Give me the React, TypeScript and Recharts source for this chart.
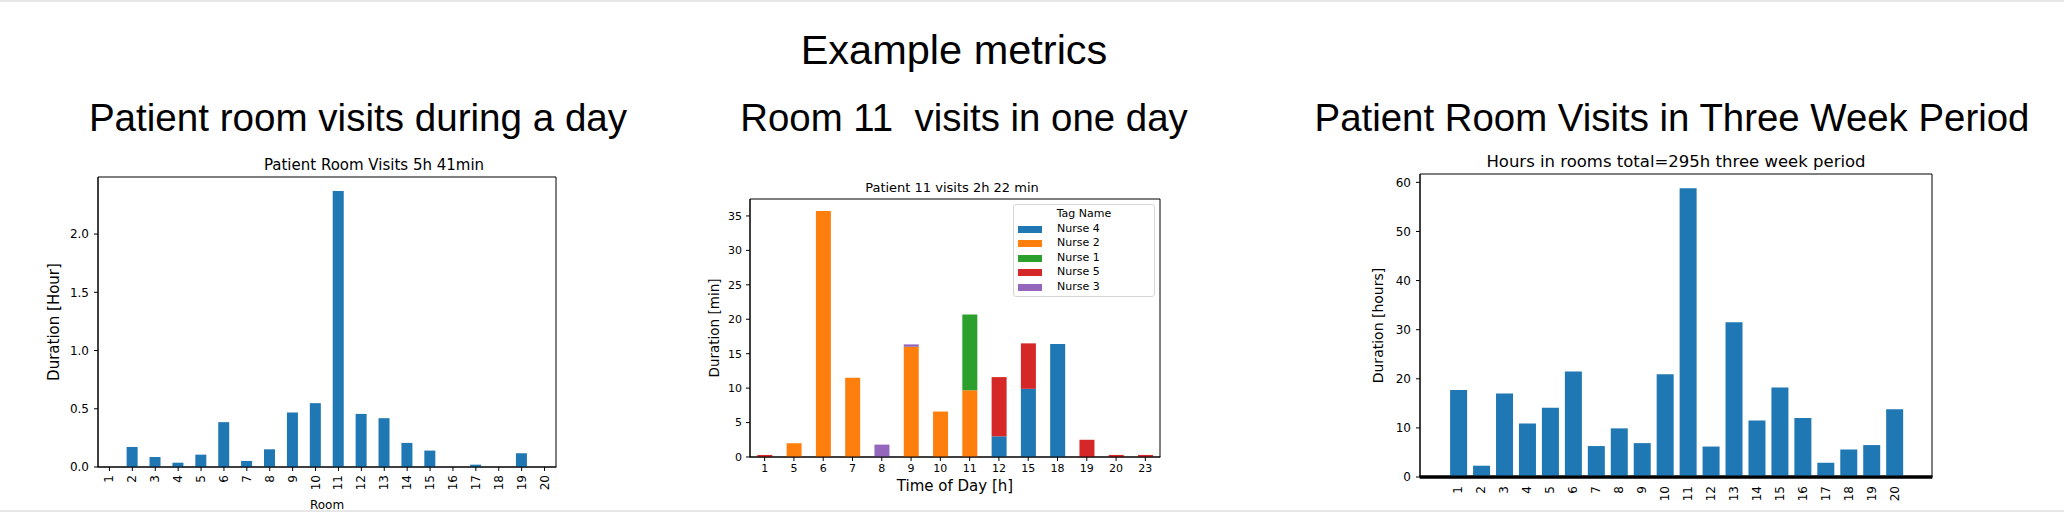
import React from 'react';
import * as R from 'recharts';
import { BarChart, Bar, XAxis, YAxis, Legend, Label } from 'recharts';

// ---------- data ----------
const rooms = ['1', '2', '3', '4', '5', '6', '7', '8', '9', '10', '11', '12', '13', '14', '15', '16', '17', '18', '19', '20'];
const dayHours = [0, 0.172, 0.086, 0.037, 0.106, 0.385, 0.052, 0.152, 0.468, 0.548, 2.37, 0.456, 0.419, 0.207, 0.141, 0, 0.02, 0, 0.118, 0];
const dayTicks = [0, 0.5, 1, 1.5, 2];

const hoursOfDay = ['1', '5', '6', '7', '8', '9', '10', '11', '12', '15', '18', '19', '20', '23'];
const nurse4 = [0, 0, 0, 0, 0, 0, 0, 0, 3.0, 9.9, 16.4, 0, 0, 0];
const nurse2 = [0, 2.0, 35.7, 11.5, 0, 16.0, 6.6, 9.7, 0, 0, 0, 0, 0, 0];
const nurse1 = [0, 0, 0, 0, 0, 0, 0, 11.0, 0, 0, 0, 0, 0, 0];
const nurse5 = [0.3, 0, 0, 0, 0, 0, 0, 0, 8.6, 6.6, 0, 2.5, 0.3, 0.3];
const nurse3 = [0, 0, 0, 0, 1.8, 0.35, 0, 0, 0, 0, 0, 0, 0, 0];
const nurseNames = ['Nurse 4', 'Nurse 2', 'Nurse 1', 'Nurse 5', 'Nurse 3'];
const nurseColors = ['#1f77b4', '#ff7f0e', '#2ca02c', '#d62728', '#9467bd'];
const minuteTicks = [0, 5, 10, 15, 20, 25, 30, 35];

const weekHours = [17.7, 2.3, 17.0, 10.9, 14.1, 21.5, 6.3, 9.9, 6.9, 20.9, 58.8, 6.2, 31.5, 11.5, 18.2, 12.0, 2.9, 5.6, 6.5, 13.8];
const weekTicks = [0, 10, 20, 30, 40, 50, 60];

// ---------- derived tables ----------
const dayData = rooms.map((room, i) => ({ room, hours: dayHours[i] }));
const nurseSeries = [nurse4, nurse2, nurse1, nurse5, nurse3];
const visitData = hoursOfDay.map((hour, i) => {
  const row: Record<string, any> = { hour };
  nurseNames.forEach((n, k) => {
    row[n] = nurseSeries[k][i];
  });
  return row;
});
const weekData = rooms.map((room, i) => ({ room, hours: weekHours[i] }));

// ---------- styles ----------
const MPL = '"DejaVu Sans", sans-serif';
const SANS = '"Liberation Sans", Arial, sans-serif';
const BLUE = '#1f77b4';
const axisStroke = { stroke: '#000', strokeWidth: 1 };

const RotTick = (fontSize: number) => (props: any) => {
  const { x, y, payload } = props;
  return (
    <text
      x={x}
      y={y}
      transform={`rotate(-90 ${x} ${y})`}
      textAnchor="end"
      dominantBaseline="central"
      fontFamily={MPL}
      fontSize={fontSize}
      fill="#000"
    >
      {payload.value}
    </text>
  );
};

const yTitle = (text: string, dx: number, fontSize: number) => (props: any) => {
  const vb = props.viewBox || {};
  const cx = (vb.x || 0) + dx;
  const cy = (vb.y || 0) + (vb.height || 0) / 2;
  return (
    <text
      x={cx}
      y={cy}
      transform={`rotate(-90 ${cx} ${cy})`}
      textAnchor="middle"
      dominantBaseline="central"
      fontFamily={MPL}
      fontSize={fontSize}
      fill="#000"
    >
      {text}
    </text>
  );
};

const xTitle = (text: string, dy: number, fontSize: number) => (props: any) => {
  const vb = props.viewBox || {};
  const cx = (vb.x || 0) + (vb.width || 0) / 2;
  const cy = (vb.y || 0) + dy;
  return (
    <text x={cx} y={cy} textAnchor="middle" fontFamily={MPL} fontSize={fontSize} fill="#000">
      {text}
    </text>
  );
};

const NurseLegend = () => (
  <div
    style={{
      width: 142,
      height: 93,
      boxSizing: 'border-box',
      border: '1px solid #d6d6d6',
      borderRadius: 3,
      background: 'rgba(255,255,255,0.85)',
      fontFamily: MPL,
      fontSize: 11,
      color: '#000',
      paddingTop: 2,
      lineHeight: '14.6px',
    }}
  >
    <div style={{ textAlign: 'center', height: 14.6 }}>Tag Name</div>
    {nurseNames.map((n, i) => (
      <div key={n} style={{ position: 'relative', height: 14.6 }}>
        <span
          style={{
            position: 'absolute',
            left: 4,
            top: 4,
            width: 24,
            height: 7,
            background: nurseColors[i],
          }}
        />
        <span style={{ position: 'absolute', left: 43, top: 0, whiteSpace: 'nowrap' }}>{n}</span>
      </div>
    ))}
  </div>
);

// Plot-area frame (matplotlib spines) drawn from the chart's own plot area.
const usePlotAreaHook: any = (R as any).usePlotArea;
const useOffsetHook: any = (R as any).useOffset;
const useWidthHook: any = (R as any).useChartWidth;
const useHeightHook: any = (R as any).useChartHeight;

const Frame = ({ bottomWidth = 1 }: { bottomWidth?: number }) => {
  let box: any = null;
  if (usePlotAreaHook) {
    box = usePlotAreaHook();
  } else if (useOffsetHook && useWidthHook && useHeightHook) {
    const o = useOffsetHook();
    const w = useWidthHook();
    const h = useHeightHook();
    if (o && w && h) box = { x: o.left, y: o.top, width: w - o.left - o.right, height: h - o.top - o.bottom };
  }
  if (!box) return null;
  const { x, y, width, height } = box;
  return (
    <g>
      <line x1={x} y1={y} x2={x + width} y2={y} stroke="#000" strokeWidth={1} />
      <line x1={x + width} y1={y} x2={x + width} y2={y + height} stroke="#000" strokeWidth={1} />
      <line x1={x} y1={y} x2={x} y2={y + height} stroke="#000" strokeWidth={1} />
      <line x1={x - 0.5} y1={y + height} x2={x + width + 0.5} y2={y + height} stroke="#000" strokeWidth={bottomWidth} />
    </g>
  );
};

export default function App() {
  return (
    <div
      style={{
        position: 'absolute',
        left: 0,
        top: 0,
        width: 2064,
        height: 512,
        background: '#fff',
        overflow: 'hidden',
      }}
    >
      <div style={{ position: 'absolute', left: 0, top: 0, width: 2064, height: 2, background: '#e6e6e6' }} />
      <div style={{ position: 'absolute', left: 0, top: 510, width: 2064, height: 2, background: '#e6e6e6' }} />

      <svg width={2064} height={512} style={{ position: 'absolute', left: 0, top: 0 }}>
        <text x={954} y={64} textAnchor="middle" fontFamily={SANS} fontSize={41.5} fill="#000">
          Example metrics
        </text>
        <text x={358} y={131} textAnchor="middle" fontFamily={SANS} fontSize={38.6} fill="#000">
          Patient room visits during a day
        </text>
        <text x={964} y={131} textAnchor="middle" fontFamily={SANS} fontSize={38.4} fill="#000" style={{ whiteSpace: 'pre' }}>
          {'Room 11  visits in one day'}
        </text>
        <text x={1672} y={131} textAnchor="middle" fontFamily={SANS} fontSize={38.4} fill="#000">
          Patient Room Visits in Three Week Period
        </text>
        <text x={374} y={170} textAnchor="middle" fontFamily={MPL} fontSize={15} fill="#000">
          Patient Room Visits 5h 41min
        </text>
        <text x={952} y={192} textAnchor="middle" fontFamily={MPL} fontSize={13} fill="#000">
          Patient 11 visits 2h 22 min
        </text>
        <text x={1676} y={167} textAnchor="middle" fontFamily={MPL} fontSize={16.5} fill="#000">
          Hours in rooms total=295h three week period
        </text>
      </svg>

      {/* Chart 1 */}
      <div style={{ position: 'absolute', left: 0, top: 140 }}>
        <BarChart width={600} height={372} data={dayData} margin={{ top: 37, right: 44, bottom: 0, left: 0 }} barCategoryGap="25%">
          <XAxis
            dataKey="room"
            interval={0}
            height={45}
            tickSize={4}
            tickMargin={4}
            axisLine={axisStroke}
            tickLine={axisStroke}
            tick={RotTick(12)}
          >
            <Label content={xTitle('Room', 42, 12)} />
          </XAxis>
          <YAxis
            width={98}
            domain={[0, 2.49]}
            ticks={dayTicks}
            tickFormatter={(v: number) => v.toFixed(1)}
            tickSize={4}
            tickMargin={5}
            axisLine={axisStroke}
            tickLine={axisStroke}
            tick={{ fill: '#000', fontSize: 12, fontFamily: MPL }}
          >
            <Label content={yTitle('Duration [Hour]', 54, 15)} />
          </YAxis>
          <Bar dataKey="hours" fill={BLUE} isAnimationActive={false} />
          <Frame />
        </BarChart>
      </div>

      {/* Chart 2 */}
      <div style={{ position: 'absolute', left: 680, top: 170 }}>
        <BarChart width={500} height={342} data={visitData} margin={{ top: 29, right: 20, bottom: 0, left: 0 }} barCategoryGap="25%">
          <XAxis
            dataKey="hour"
            interval={0}
            height={55}
            tickSize={4}
            tickMargin={3}
            axisLine={axisStroke}
            tickLine={axisStroke}
            tick={{ fill: '#000', fontSize: 11, fontFamily: MPL }}
          >
            <Label content={xTitle('Time of Day [h]', 34, 15)} />
          </XAxis>
          <YAxis
            width={70}
            domain={[0, 37.46]}
            ticks={minuteTicks}
            tickSize={4}
            tickMargin={4}
            axisLine={axisStroke}
            tickLine={axisStroke}
            tick={{ fill: '#000', fontSize: 11, fontFamily: MPL }}
          >
            <Label content={yTitle('Duration [min]', 34, 13.5)} />
          </YAxis>
          {nurseNames.map((n, i) => (
            <Bar key={n} dataKey={n} name={n} stackId="s" fill={nurseColors[i]} isAnimationActive={false} />
          ))}
          <Frame />
          <Legend
            layout="vertical"
            align="center"
            verticalAlign="middle"
            wrapperStyle={{ left: 333, top: 34, width: 142, height: 93 }}
            content={() => <NurseLegend />}
          />
        </BarChart>
      </div>

      {/* Chart 3 */}
      <div style={{ position: 'absolute', left: 1300, top: 140 }}>
        <BarChart width={764} height={372} data={weekData} margin={{ top: 34, right: 132, bottom: 0, left: 0 }} barCategoryGap="13.6%">
          <XAxis
            dataKey="room"
            interval={0}
            height={35}
            padding={{ left: 27, right: 26 }}
            tickSize={0}
            tickMargin={9}
            axisLine={{ stroke: '#000', strokeWidth: 3 }}
            tickLine={false}
            tick={RotTick(12)}
          />
          <YAxis
            width={120}
            domain={[0, 61.7]}
            ticks={weekTicks}
            tickSize={4}
            tickMargin={5}
            axisLine={axisStroke}
            tickLine={axisStroke}
            tick={{ fill: '#000', fontSize: 12, fontFamily: MPL }}
          >
            <Label content={yTitle('Duration [hours]', 78, 14)} />
          </YAxis>
          <Bar dataKey="hours" fill={BLUE} isAnimationActive={false} />
          <Frame bottomWidth={3} />
        </BarChart>
      </div>
    </div>
  );
}
